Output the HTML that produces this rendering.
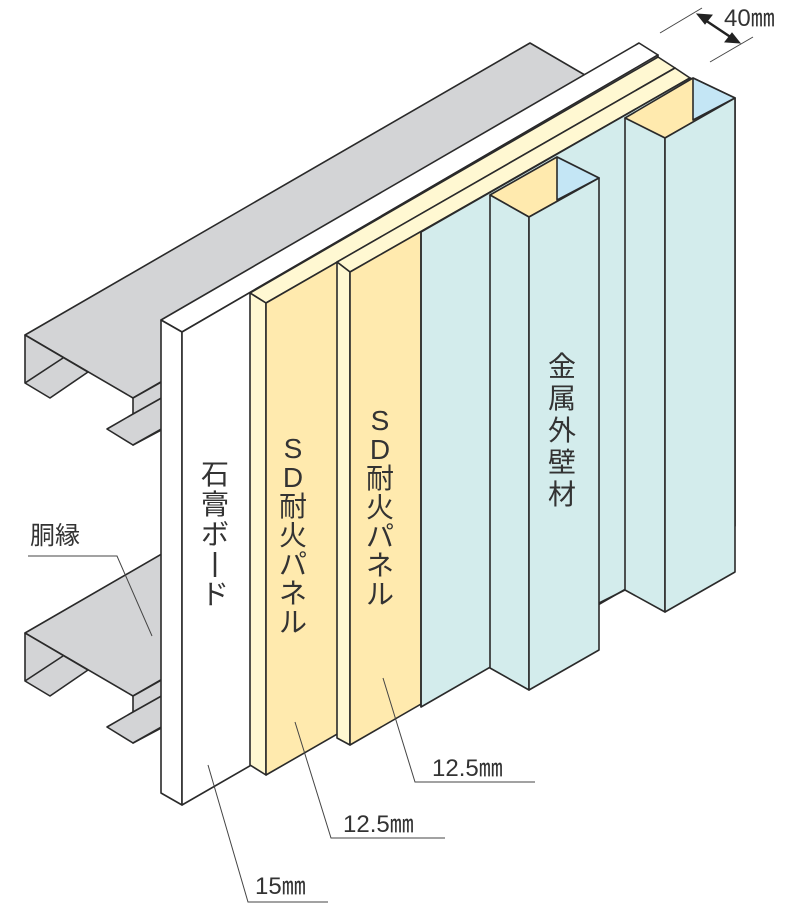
<!DOCTYPE html>
<html><head><meta charset="utf-8">
<style>
html,body{margin:0;padding:0;background:#fff;}
svg{display:block;}
text{font-family:"Liberation Sans","Noto Sans CJK JP",sans-serif;fill:#333;}
</style></head><body>
<svg width="800" height="912" viewBox="0 0 800 912" xmlns="http://www.w3.org/2000/svg">
<defs>
<g id="ch">
<polygon points="25,335 530,43 638,106 133,398" fill="#d3d4d6"/>
<polygon points="25,335 88,372 50,398 25,383" fill="#d3d4d6"/>
<line x1="25" y1="383" x2="63" y2="358"/>
<polygon points="133,398 165,380 165,428 133,445" fill="#d3d4d6"/>
<polygon points="107,429 133,414 165,396 165,427 133,445" fill="#d3d4d6"/>
</g>
</defs>
<g stroke="#2a2a2a" stroke-width="1.6" stroke-linejoin="round">
<use href="#ch"/>
<use href="#ch" transform="translate(0,298)"/>
<!-- gypsum board -->
<polygon points="161,320 639,43 658,55 182,332" fill="#fff"/>
<polygon points="161,320 182,332 182,805 161,793" fill="#fff"/>
<polygon points="182,332 658,55 658,531 182,805" fill="#fff"/>
<!-- panel 1 -->
<polygon points="250,293 658,57 675,68 266,303" fill="#fff8d2"/>
<polygon points="250,293 266,303 266,775 250,765" fill="#fff8d2"/>
<polygon points="266,303 675,68 675,540 266,775" fill="#ffeaae"/>
<!-- panel 2 -->
<polygon points="337,262 675,68 690,78 350,272" fill="#fff8d2"/>
<polygon points="337,262 350,272 350,745 337,738" fill="#fff8d2"/>
<polygon points="350,272 690,78 690,549 350,745" fill="#ffeaae"/>
<!-- metal base -->
<polygon points="421,232 690,78 735,98 735,526 421,707" fill="#d3ecec"/>
<!-- rib 1 -->
<polygon points="490,195 557,157 599,178 529,217" fill="#ffeaae"/>
<polygon points="557,157 599,178 557,200" fill="#c4e6f5"/>
<polygon points="490,195 529,217 529,690 490,668" fill="#d3ecec"/>
<polygon points="529,217 599,178 599,650 529,690" fill="#d3ecec"/>
<line x1="599" y1="603" x2="625" y2="590"/>
<!-- rib 2 -->
<polygon points="625,118 693,78 735,98 665,138" fill="#ffeaae"/>
<polygon points="693,78 735,98 693,120" fill="#c4e6f5"/>
<polygon points="625,118 665,138 665,612 625,590" fill="#d3ecec"/>
<polygon points="665,138 735,98 735,572 665,612" fill="#d3ecec"/>
<line x1="421" y1="232" x2="421" y2="707"/>
</g>
<!-- leaders -->
<g stroke="#444" stroke-width="1" fill="none">
<polyline points="28,556 117,556 152,636"/>
<polyline points="208,765 248,902 328,902"/>
<polyline points="295,722 331,838 445,838"/>
<polyline points="383,678 415,782 535,782"/>
<line x1="660" y1="33" x2="702" y2="8"/>
<line x1="710" y1="62" x2="753" y2="37"/>
</g>
<g stroke="#222" stroke-width="2.5" fill="#222">
<line x1="702" y1="18" x2="735" y2="40"/>
<polygon points="697,14 712,15 705,24" stroke-width="1"/>
<polygon points="740,43 725,42 732,33" stroke-width="1"/>
</g>
<!-- labels -->
<g font-size="24">
<text x="30" y="544" font-size="25">胴縁</text>
<text x="255" y="894">15㎜</text>
<text x="343" y="832">12.5㎜</text>
<text x="432" y="776">12.5㎜</text>
<text x="724" y="26">40㎜</text>
</g>
<line x1="215" y1="552" x2="215" y2="577" stroke="#333" stroke-width="2.5"/>
<g font-size="28" text-anchor="middle">
<text x="215" y="484">石</text><text x="215" y="514">膏</text><text x="215" y="544">ボ</text><text x="215" y="604">ド</text>
<text x="293" y="458">S</text><text x="293" y="487">D</text><text x="293" y="516">耐</text><text x="293" y="545">火</text><text x="293" y="574">パ</text><text x="293" y="603">ネ</text><text x="293" y="632">ル</text>
<text x="380" y="430">S</text><text x="380" y="459">D</text><text x="380" y="488">耐</text><text x="380" y="517">火</text><text x="380" y="546">パ</text><text x="380" y="575">ネ</text><text x="380" y="604">ル</text>
<text x="562" y="376">金</text><text x="562" y="408">属</text><text x="562" y="440">外</text><text x="562" y="472">壁</text><text x="562" y="504">材</text>
</g>
</svg>
</body></html>
